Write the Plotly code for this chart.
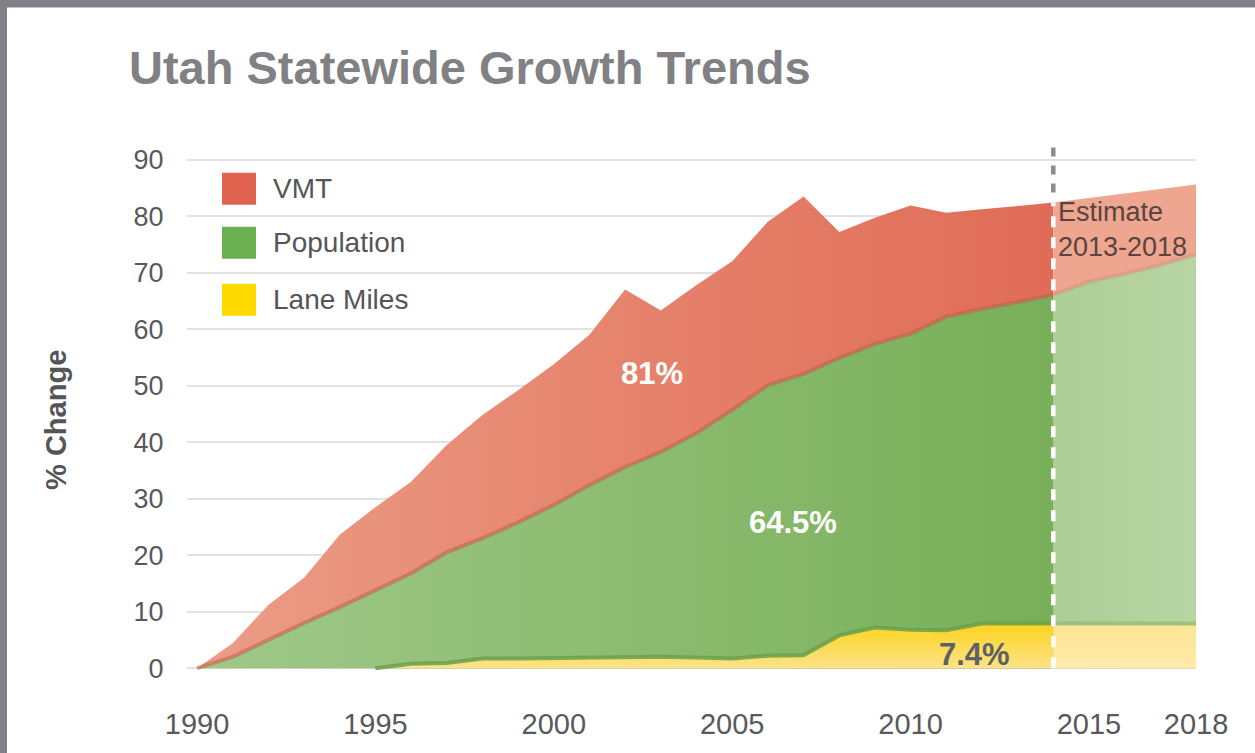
import plotly.graph_objects as go

# ---------------- data ----------------
years = list(range(1990, 2019))
vmt = [0, 4.4, 11.2, 16.0, 23.6, 28.5, 33.0, 39.5, 44.8, 49.2,
       53.8, 59.0, 67.0, 63.3, 67.8, 72.0, 79.0, 83.5, 77.2, 79.7,
       81.9, 80.6, 81.2, 81.8, 82.4, 83.2, 84.0, 84.8, 85.6]
population = [0, 2.0, 5.0, 8.0, 10.8, 13.8, 16.8, 20.5, 23.0, 25.8,
              28.9, 32.4, 35.6, 38.3, 41.6, 45.7, 50.1, 52.1, 54.9, 57.4,
              59.2, 62.2, 63.6, 64.8, 66.1, 68.4, 69.8, 71.4, 73.2]
lane_miles = [0, 0, 0, 0, 0, 0, 0.8, 0.9, 1.7, 1.7,
              1.8, 1.9, 2.0, 2.0, 1.9, 1.7, 2.2, 2.3, 5.8, 7.2,
              6.8, 6.7, 7.9, 7.9, 7.9, 7.9, 7.9, 7.9, 7.9]
estimate_start = 2014
series_names = ["VMT", "Population", "Lane Miles"]
labels = ["81%", "64.5%", "7.4%"]
x_ticks = [1990, 1995, 2000, 2005, 2010, 2015, 2018]
y_ticks = list(range(0, 100, 10))

# ---------------- geometry helpers ----------------
W, H = 1255, 753
L, R = 187, 1196
Y0, Y1 = -0.5, 91.0
B = 670.8
T = B - (Y1 - Y0) * 5.644


def px(x):
    return (x - L) / (R - L)


def py(y):
    return (B - y) / (B - T)


def yv(v):
    """data value -> page pixel row"""
    return B - (v - Y0) * 5.644


i_est = years.index(estimate_start)
yr_act, yr_est = years[:i_est + 1], years[i_est:]
# lane miles: skip the flat leading zeros (nothing to draw there)
i_lane = max(i for i in range(len(lane_miles)) if all(v == 0 for v in lane_miles[:i + 1]))

FONT = "Liberation Sans, Arial, Helvetica, sans-serif"
fig = go.Figure()

# VMT
fig.add_trace(go.Scatter(
    x=yr_act, y=vmt[:i_est + 1], mode="lines", fill="tozeroy",
    line=dict(width=0, color="#E06B55"), name=series_names[0],
    fillgradient=dict(type="horizontal", start=1990, stop=2014,
                      colorscale=[[0, "#EB9D87"], [0.5, "#E6836D"], [1, "#E06C57"]]),
    showlegend=False, hoverinfo="skip"))
fig.add_trace(go.Scatter(
    x=yr_est, y=vmt[i_est:], mode="lines", fill="tozeroy",
    line=dict(width=0, color="#EEA691"), fillcolor="#EEA691",
    showlegend=False, hoverinfo="skip"))

# Population
fig.add_trace(go.Scatter(
    x=yr_act, y=population[:i_est + 1], mode="lines", fill="tozeroy",
    line=dict(width=4, color="rgba(196,92,74,0.55)"), name=series_names[1],
    fillgradient=dict(type="horizontal", start=1990, stop=2014,
                      colorscale=[[0, "#A0C889"], [1, "#78AF58"]]),
    showlegend=False, hoverinfo="skip"))
fig.add_trace(go.Scatter(
    x=yr_est, y=population[i_est:], mode="lines", fill="tozeroy",
    line=dict(width=4, color="rgba(214,140,120,0.45)"),
    fillgradient=dict(type="horizontal", start=2014, stop=2018,
                      colorscale=[[0, "#ACCD96"], [1, "#B8D6A4"]]),
    showlegend=False, hoverinfo="skip"))

# Lane miles
fig.add_trace(go.Scatter(
    x=years[i_lane:i_est + 1], y=lane_miles[i_lane:i_est + 1], mode="lines", fill="tozeroy",
    line=dict(width=4, color="rgba(104,160,76,0.85)"), name=series_names[2],
    fillgradient=dict(type="vertical", start=0, stop=8,
                      colorscale=[[0, "#FDE389"], [1, "#FCD31B"]]),
    showlegend=False, hoverinfo="skip"))
fig.add_trace(go.Scatter(
    x=yr_est, y=lane_miles[i_est:], mode="lines", fill="tozeroy",
    line=dict(width=4, color="rgba(150,190,125,0.9)"),
    fillgradient=dict(type="vertical", start=0, stop=8,
                      colorscale=[[0, "#FEEAAA"], [1, "#FEE592"]]),
    showlegend=False, hoverinfo="skip"))

shapes = []
# estimate divider
shapes.append(dict(type="line", xref="x", yref="y", x0=estimate_start, x1=estimate_start,
                   y0=0, y1=vmt[i_est], line=dict(color="white", width=4.5, dash="11px,10px"),
                   layer="above"))
shapes.append(dict(type="line", xref="x", yref="paper", x0=estimate_start, x1=estimate_start,
                   y0=py(yv(vmt[i_est]) - 10), y1=py(145),
                   line=dict(color="#8c8c90", width=4.5, dash="9px,9px"),
                   layer="above"))
# frame
shapes.append(dict(type="rect", xref="paper", yref="paper", x0=px(0), x1=px(W), y0=py(0), y1=py(8),
                   line=dict(width=0), fillcolor="#808086", layer="above"))
shapes.append(dict(type="rect", xref="paper", yref="paper", x0=px(0), x1=px(7), y0=py(H), y1=py(0),
                   line=dict(width=0), fillcolor="#808086", layer="above"))

annotations = []
# legend
legend_colors = ["#E06350", "#6AAF50", "#FDD900"]
legend_y = [189, 243, 300]
for name, col, ly in zip(series_names, legend_colors, legend_y):
    shapes.append(dict(type="rect", xref="paper", yref="paper", x0=px(222), x1=px(256),
                       y0=py(ly + 16), y1=py(ly - 16), line=dict(width=0), fillcolor=col,
                       layer="above"))
    annotations.append(dict(xref="paper", yref="paper", x=px(271), y=py(ly), text=name,
                            showarrow=False, xanchor="left", yanchor="middle",
                            font=dict(family=FONT, size=28, color="#555558")))

# title
annotations.append(dict(xref="paper", yref="paper", x=px(127), y=py(68),
                        text="<b>Utah Statewide Growth Trends</b>", showarrow=False,
                        xanchor="left", yanchor="middle",
                        font=dict(family=FONT, size=47, color="#808085")))
# y title
annotations.append(dict(xref="paper", yref="paper", x=px(56), y=py(420),
                        text="<b>% Change</b>", showarrow=False, textangle=-90,
                        xanchor="center", yanchor="middle",
                        font=dict(family=FONT, size=29, color="#555558")))
# value labels
for txt, (lx, ly), col in zip(labels, [(652, 374), (793, 522), (974, 654)],
                              ["white", "white", "#5f6064"]):
    annotations.append(dict(xref="paper", yref="paper", x=px(lx), y=py(ly), text="<b>" + txt + "</b>",
                            showarrow=False, xanchor="center", yanchor="middle",
                            font=dict(family=FONT, size=31, color=col)))
# estimate note
annotations.append(dict(xref="paper", yref="paper", x=px(1056), y=py(230),
                        text="Estimate<br>2013-2018", showarrow=False, align="left",
                        xanchor="left", yanchor="middle",
                        font=dict(family=FONT, size=27, color="#5a4440")))

fig.update_layout(
    width=W, height=H,
    margin=dict(l=L, r=W - R, t=T, b=H - B, pad=0),
    paper_bgcolor="white", plot_bgcolor="white",
    showlegend=False,
    shapes=shapes, annotations=annotations,
    xaxis=dict(range=[1990 - 10 / 35.68, 2018], tickvals=x_ticks, ticktext=[str(v) for v in x_ticks],
               showgrid=False, zeroline=False, showline=False, automargin=False,
               ticks="outside", ticklen=27, tickcolor="rgba(0,0,0,0)",
               tickfont=dict(family=FONT, size=29, color="#58595b")),
    yaxis=dict(range=[Y0, Y1], tickvals=y_ticks, showgrid=True, gridcolor="#e2e2e2", gridwidth=2,
               zeroline=False, showline=False, automargin=False,
               ticks="outside", ticklen=17, tickcolor="rgba(0,0,0,0)",
               tickfont=dict(family=FONT, size=27, color="#58595b")),
)

fig.write_html("out.html", config={"displayModeBar": False},
               post_script="document.body.style.margin='0px';")
